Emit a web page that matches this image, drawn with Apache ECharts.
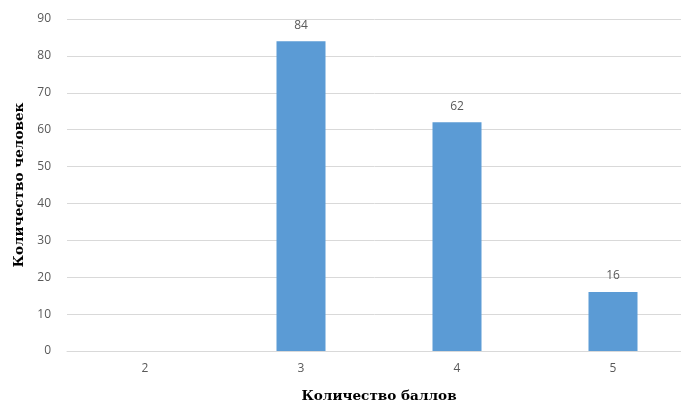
<!DOCTYPE html>
<html><head><meta charset="utf-8">
<script src="https://cdn.jsdelivr.net/npm/echarts@6/dist/echarts.min.js"></script>
<style>html,body{margin:0;padding:0;background:#fff}#c{width:681px;height:403px}</style>
</head><body><div id="c"></div>
<script>
const categories = ['2', '3', '4', '5'];
const values = [0, 84, 62, 16];
const yTicks = { min: 0, max: 90, interval: 10 };
const xTitle = 'Количество баллов';
const yTitle = 'Количество человек';

const chart = echarts.init(document.getElementById('c'), null, { renderer: 'canvas' });
chart.setOption({
  animation: false,
  grid: { left: 67, top: 19, width: 624, height: 332, containLabel: false, outerBoundsMode: 'none' },
  xAxis: {
    type: 'category', data: categories,
    axisLine: { show: true, lineStyle: { color: '#D9D9D9', width: 1 } },
    axisTick: { show: false },
    axisLabel: { color: '#595959', fontFamily: 'Open Sans, Lato, sans-serif', fontSize: 12, margin: 12 },
    name: xTitle, nameLocation: 'middle', nameGap: 38,
    nameTextStyle: { color: '#000', fontFamily: 'DejaVu Serif', fontWeight: 'bold', fontSize: 13.6 }
  },
  yAxis: {
    type: 'value', min: yTicks.min, max: yTicks.max, interval: yTicks.interval,
    axisLine: { show: false }, axisTick: { show: false },
    splitLine: { lineStyle: { color: '#D9D9D9', width: 1 } },
    axisLabel: { color: '#595959', fontFamily: 'Open Sans, Lato, sans-serif', fontSize: 12, margin: 16 },
    name: yTitle, nameLocation: 'middle', nameGap: 38, nameRotate: 90,
    nameTextStyle: { color: '#000', fontFamily: 'DejaVu Serif', fontWeight: 'bold', fontSize: 13.6 }
  },
  series: [{
    type: 'bar', data: values, barWidth: 49,
    itemStyle: { color: '#5B9BD5' },
    label: {
      show: true, position: 'top', distance: 10, color: '#595959',
      fontFamily: 'Open Sans, Lato, sans-serif', fontSize: 12,
      formatter: p => p.value === 0 ? '' : String(p.value)
    }
  }]
});
</script></body></html>
